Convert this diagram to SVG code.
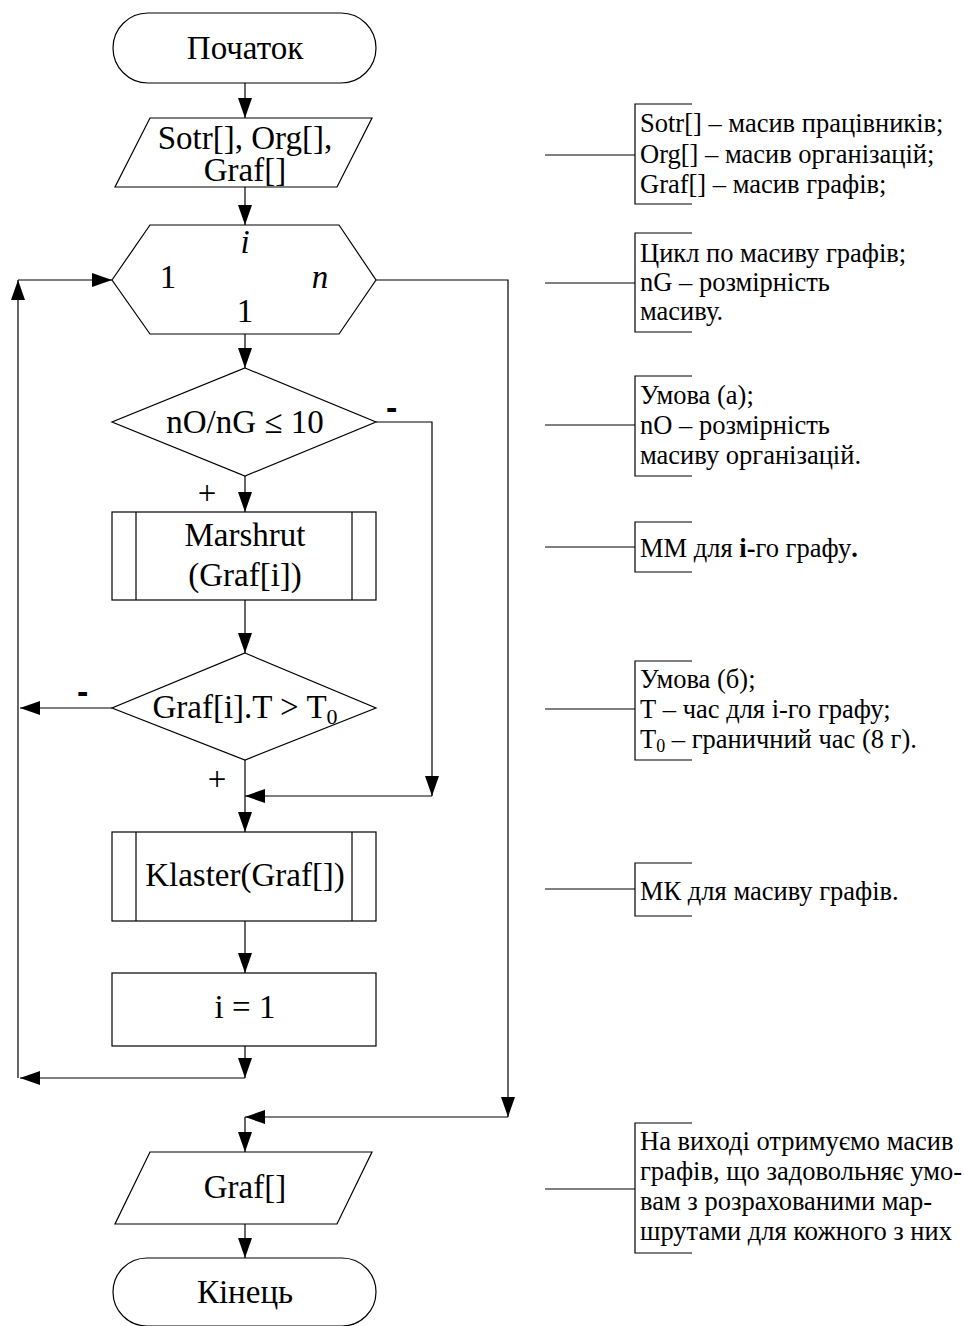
<svg xmlns="http://www.w3.org/2000/svg" width="964" height="1326" viewBox="0 0 964 1326">
<style>
.s{fill:#fff;stroke:#000;stroke-width:1.2}
.c{fill:none;stroke:#000;stroke-width:1.2}
.t{font-family:"Liberation Serif","Times New Roman",serif;font-size:33px;fill:#000;text-anchor:middle}
.a{font-family:"Liberation Serif","Times New Roman",serif;font-size:26.5px;fill:#000}
.m{font-family:"Liberation Sans",Arial,sans-serif;font-weight:bold;font-size:34px;fill:#000}
</style>
<defs>
<marker id="ar" markerUnits="userSpaceOnUse" markerWidth="20" markerHeight="14" refX="20" refY="7" orient="auto">
<path d="M0,0 L20,7 L0,14 z" fill="#000"/>
</marker>
</defs>
<rect width="964" height="1326" fill="#fff"/>

<g id="start"><rect class="s" x="113" y="13" width="263" height="70" rx="35"/><text class="t" x="245" y="59">Початок</text></g>
<g id="input"><polygon class="s" points="150,118 372,118 337,187 115,187"/><text class="t" x="245" y="149" font-size="32">Sotr[], Org[],</text><text class="t" x="245" y="181" font-size="32">Graf[]</text></g>
<g id="loop"><polygon class="s" points="112,280 150,225 339,225 376,280 339,334 150,334"/>
<text class="t" x="245" y="253" font-style="italic">i</text>
<text class="t" x="168" y="288">1</text>
<text class="t" x="320" y="288" font-style="italic">n</text>
<text class="t" x="245" y="322">1</text></g>
<g id="cond1"><polygon class="s" points="245,368 376,422 245,476 112,422"/><text class="t" x="245" y="433">nO/nG ≤ 10</text></g>
<g id="marshrut"><rect class="s" x="112" y="512" width="264" height="88"/><line class="c" x1="136" y1="512" x2="136" y2="600"/><line class="c" x1="352" y1="512" x2="352" y2="600"/><text class="t" x="245" y="546">Marshrut</text><text class="t" x="245" y="586">(Graf[i])</text></g>
<g id="cond2"><polygon class="s" points="245,653 376,708 245,760 112,708"/><text class="t" x="245" y="718">Graf[i].T &gt; T<tspan font-size="22" dy="6">0</tspan></text></g>
<g id="klaster"><rect class="s" x="112" y="832" width="264" height="89"/><line class="c" x1="136" y1="832" x2="136" y2="921"/><line class="c" x1="352" y1="832" x2="352" y2="921"/><text class="t" x="245" y="886">Klaster(Graf[])</text></g>
<g id="assign"><rect class="s" x="112" y="973" width="264" height="73"/><text class="t" x="245" y="1018">i = 1</text></g>
<g id="output"><polygon class="s" points="150,1152 372,1152 337,1224 115,1224"/><text class="t" x="245" y="1198">Graf[]</text></g>
<g id="end"><rect class="s" x="113" y="1258" width="263" height="68" rx="34"/><text class="t" x="245" y="1303">Кінець</text></g>

<g id="connectors">
<line class="c" x1="245" y1="83" x2="245" y2="118" marker-end="url(#ar)"/>
<line class="c" x1="245" y1="187" x2="245" y2="225" marker-end="url(#ar)"/>
<line class="c" x1="245" y1="334" x2="245" y2="368" marker-end="url(#ar)"/>
<line class="c" x1="245" y1="476" x2="245" y2="512" marker-end="url(#ar)"/>
<line class="c" x1="245" y1="600" x2="245" y2="653" marker-end="url(#ar)"/>
<line class="c" x1="245" y1="760" x2="245" y2="832" marker-end="url(#ar)"/>
<polyline class="c" points="376,422 432,422 432,796" marker-end="url(#ar)"/>
<line class="c" x1="432" y1="796" x2="245" y2="796" marker-end="url(#ar)"/>
<line class="c" x1="112" y1="708" x2="20" y2="708" marker-end="url(#ar)"/>
<line class="c" x1="245" y1="921" x2="245" y2="973" marker-end="url(#ar)"/>
<line class="c" x1="245" y1="1046" x2="245" y2="1078" marker-end="url(#ar)"/>
<line class="c" x1="245" y1="1078" x2="20" y2="1078" marker-end="url(#ar)"/>
<line class="c" x1="18" y1="1078" x2="18" y2="280" marker-end="url(#ar)"/>
<line class="c" x1="18" y1="280" x2="112" y2="280" marker-end="url(#ar)"/>
<polyline class="c" points="376,280 508,280 508,1117" marker-end="url(#ar)"/>
<line class="c" x1="508" y1="1117" x2="245" y2="1117" marker-end="url(#ar)"/>
<line class="c" x1="245" y1="1117" x2="245" y2="1152" marker-end="url(#ar)"/>
<line class="c" x1="245" y1="1224" x2="245" y2="1258" marker-end="url(#ar)"/>
<text class="t" x="207" y="504" font-size="30">+</text>
<text class="t" x="217" y="790" font-size="30">+</text>
<text class="m" x="386" y="419">-</text>
<text class="m" x="77" y="703">-</text>
</g>

<g id="notes">
<path class="c" d="M545,155 H635 M692,104 H635 V204 H692"/>
<text class="a" x="640" y="132">Sotr[] – масив працівників;</text>
<text class="a" x="640" y="163">Org[] – масив організацій;</text>
<text class="a" x="640" y="193">Graf[] – масив графів;</text>
<path class="c" d="M545,283 H635 M692,233 H635 V332 H692"/>
<text class="a" x="640" y="262">Цикл по масиву графів;</text>
<text class="a" x="640" y="291">nG – розмірність</text>
<text class="a" x="640" y="320">масиву.</text>
<path class="c" d="M545,425 H635 M692,376 H635 V476 H692"/>
<text class="a" x="640" y="404">Умова (а);</text>
<text class="a" x="640" y="434">nO – розмірність</text>
<text class="a" x="640" y="464">масиву організацій.</text>
<path class="c" d="M545,547 H635 M692,522 H635 V572 H692"/>
<text class="a" x="640" y="557">ММ для <tspan font-weight="bold">i-</tspan>го графу<tspan font-weight="bold">.</tspan></text>
<path class="c" d="M545,709 H635 M692,661 H635 V760 H692"/>
<text class="a" x="640" y="688">Умова (б);</text>
<text class="a" x="640" y="718">Т – час для і-го графу;</text>
<text class="a" x="640" y="748">Т<tspan font-size="18" dy="4">0</tspan><tspan dy="-4"> – граничний час (8 г).</tspan></text>
<path class="c" d="M545,889 H635 M692,863 H635 V916 H692"/>
<text class="a" x="640" y="900">МК для масиву графів.</text>
<path class="c" d="M545,1189 H635 M692,1123 H635 V1253 H692"/>
<text class="a" x="640" y="1150">На виході отримуємо масив</text>
<text class="a" x="640" y="1180">графів, що задовольняє умо-</text>
<text class="a" x="640" y="1210">вам з розрахованими мар-</text>
<text class="a" x="640" y="1240">шрутами для кожного з них</text>
</g>
</svg>
